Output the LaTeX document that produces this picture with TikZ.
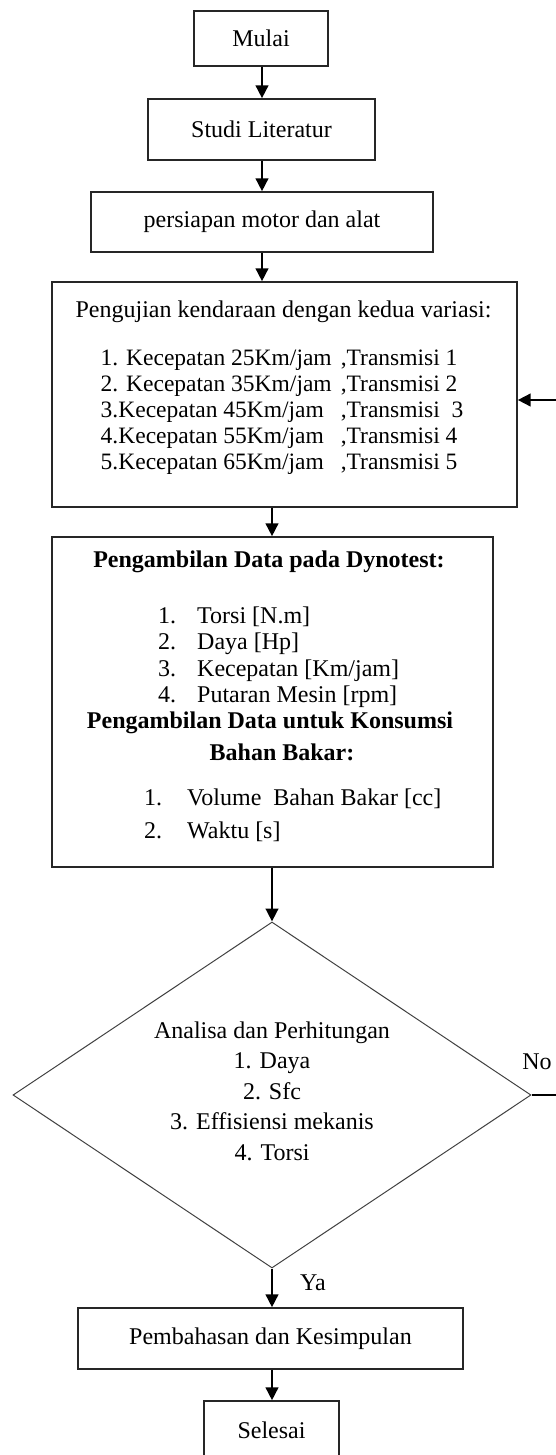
\documentclass[tikz,border=0pt]{standalone}
\usepackage{fontspec}
\setmainfont{Liberation Serif}
\usetikzlibrary{arrows.meta,shapes.geometric}
\begin{document}
\begin{tikzpicture}[x=1pt,y=-1pt,
  box/.style={draw=black!85,line width=1.4pt,inner sep=0pt,font=\fontsize{24}{26.5}\selectfont},
  arr/.style={line width=2.7pt,-{Triangle[length=13pt,width=12.5pt]}},
  txt/.style={inner sep=0pt,font=\fontsize{24}{26.5}\selectfont},
  btxt/.style={inner sep=0pt,font=\fontsize{24}{26.5}\selectfont\bfseries}]
\useasboundingbox (0,0) rectangle (555,1455);
\coordinate (ax1) at (262,0);
\coordinate (fby) at (0,400);
% boxes
\node[box,minimum width=134pt,minimum height=55pt] (start) at (261,38.5) {Mulai};
\node[box,minimum width=227pt,minimum height=61pt] (lit) at (261.5,129.5) {Studi Literatur};
\node[box,minimum width=342pt,minimum height=60pt] (prep) at (262,222) {persiapan motor dan alat};
\node[box,minimum width=465pt,minimum height=225pt] (test) at (284.5,394.5) {};
\node[txt] (testtitle) at (283.5,312) {Pengujian kendaraan dengan kedua variasi:};
\node[txt,font=\fontsize{23.5}{26}\selectfont] (testlist) at (282,412) {\begin{tabular}{@{}l@{\hspace{9pt}}l@{}}
1. Kecepatan 25Km/jam & ,Transmisi 1\\
2. Kecepatan 35Km/jam & ,Transmisi 2\\
3.Kecepatan 45Km/jam & ,Transmisi\ \ 3\\
4.Kecepatan 55Km/jam & ,Transmisi 4\\
5.Kecepatan 65Km/jam & ,Transmisi 5
\end{tabular}};
\node[box,minimum width=441pt,minimum height=330pt] (data) at (272.5,702) {};
\node[btxt] (dtitle) at (269,562) {Pengambilan Data pada Dynotest:};
\node[txt,anchor=west] (dlist) at (158,657.5) {\begin{tabular}{@{}p{39pt}@{}l@{}}
1. & Torsi [N.m]\\
2. & Daya [Hp]\\
3. & Kecepatan [Km/jam]\\
4. & Putaran Mesin [rpm]
\end{tabular}};
\node[btxt] (ftitle) at (270,723) {Pengambilan Data untuk Konsumsi};
\node[btxt] (ftitle2) at (282,752) {Bahan Bakar:};
\node[txt,anchor=west] (flist) at (144,816.5) {\begin{tabular}{@{}p{43pt}@{}l@{}}
1. & Volume\ \ Bahan Bakar [cc]\\[6.5pt]
2. & Waktu [s]
\end{tabular}};
% decision
\node[draw=black!75,line width=1pt,diamond,minimum width=518pt,minimum height=346pt,inner sep=0pt] (dia) at (272,1095) {};
\node[txt,align=center,font=\fontsize{24}{30.5}\selectfont] (diatxt) at (272,1091) {Analisa dan Perhitungan\\1. Daya\\2. Sfc\\3. Effisiensi mekanis\\4. Torsi};
\node[box,minimum width=385pt,minimum height=61pt] (pemb) at (270.5,1338.5) {Pembahasan dan Kesimpulan};
\node[box,minimum width=135pt,minimum height=58pt] (fin) at (271.5,1430) {Selesai};
% labels
\node[txt] (ya) at (313,1283) {Ya};
\node[txt] (no) at (537,1062) {No};
% connectors
\draw[arr] (start.south -| ax1) -- (lit.north -| ax1);
\draw[arr] (lit.south -| ax1) -- (prep.north -| ax1);
\draw[arr] (prep.south -| ax1) -- (test.north -| ax1);
\draw[arr] (test.south -| dia.north) -- (data.north -| dia.north);
\draw[arr] (data.south -| dia.north) -- (dia.north);
\draw[arr] (dia.south) -- (pemb.north -| dia.south);
\draw[arr] (pemb.south -| dia.south) -- (fin.north -| dia.south);
\draw[arr] (dia.east) -- ++(30,0) |- (test.east |- fby);
\end{tikzpicture}
\end{document}
